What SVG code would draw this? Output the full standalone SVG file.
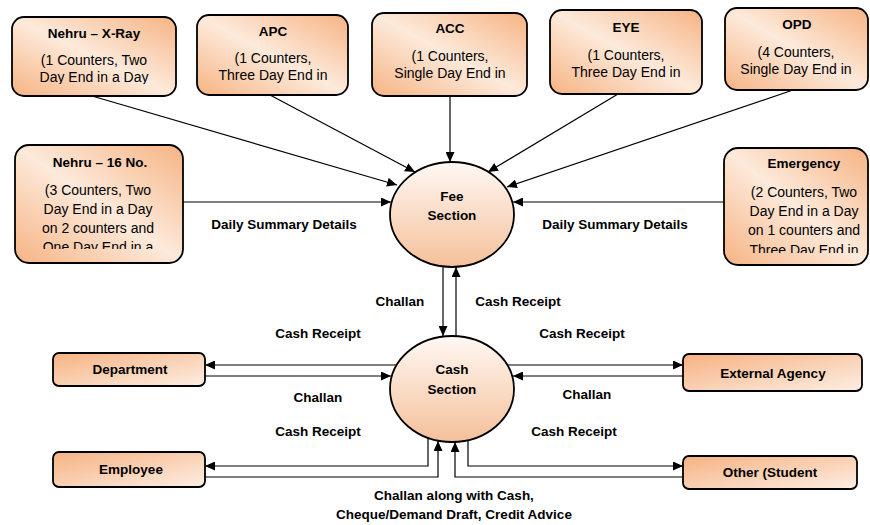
<svg xmlns="http://www.w3.org/2000/svg" width="870" height="525" viewBox="0 0 870 525">
<style>
.box{stroke:#000;stroke-width:1.8;fill:url(#gBox)}
.sbox{stroke:#000;stroke-width:1.8;fill:url(#gSmall)}
.ell{stroke:#000;stroke-width:1.8;fill:url(#gEll)}
.t{font-family:"Liberation Sans",Arial,sans-serif;fill:#000;text-anchor:middle}
.b{font-weight:bold;font-size:13.5px}
.r{font-size:14px}
.c{fill:none;stroke:#000;stroke-width:1.2}
.a{marker-end:url(#arr)}
</style>
<defs>
<linearGradient id="gBox" x1="0" y1="1" x2="1" y2="0">
<stop offset="0" stop-color="#F6B383"/>
<stop offset="0.5" stop-color="#FDEADB"/>
<stop offset="1" stop-color="#F6B383"/>
</linearGradient>
<linearGradient id="gSmall" x1="0" y1="0" x2="1" y2="1">
<stop offset="0" stop-color="#F6B282"/>
<stop offset="1" stop-color="#FDEEE3"/>
</linearGradient>
<linearGradient id="gEll" x1="0" y1="0" x2="0" y2="1">
<stop offset="0" stop-color="#FFF8F3"/>
<stop offset="1" stop-color="#F5C09B"/>
</linearGradient>
<marker id="arr" markerUnits="userSpaceOnUse" markerWidth="11" markerHeight="9" refX="10" refY="4.5" orient="auto">
<path d="M0,0 L10,4.5 L0,9 z" fill="#000"/>
</marker>
<clipPath id="cXray"><rect x="12" y="17" width="164" height="67"/></clipPath>
<clipPath id="cApc"><rect x="197" y="15" width="151" height="68"/></clipPath>
<clipPath id="cAcc"><rect x="372" y="13" width="155" height="69"/></clipPath>
<clipPath id="cEye"><rect x="550" y="10" width="152" height="70"/></clipPath>
<clipPath id="cOpd"><rect x="725" y="8" width="143" height="70"/></clipPath>
<clipPath id="cN16"><rect x="15" y="145" width="168" height="104"/></clipPath>
<clipPath id="cEmg"><rect x="724" y="148" width="144" height="105"/></clipPath>
</defs>

<g id="connectors">
<line class="c a" x1="92" y1="96" x2="397" y2="185"/>
<line class="c a" x1="270" y1="95" x2="415" y2="172"/>
<line class="c a" x1="450" y1="96" x2="450" y2="162"/>
<line class="c a" x1="618" y1="94" x2="488" y2="172"/>
<line class="c a" x1="793" y1="90" x2="507" y2="187"/>
<line class="c a" x1="183" y1="202" x2="391" y2="202"/>
<line class="c a" x1="724" y1="202" x2="513" y2="202"/>
<line class="c a" x1="443" y1="266" x2="443" y2="336"/>
<line class="c a" x1="456" y1="336" x2="456" y2="267"/>
<line class="c a" x1="396" y1="365" x2="205" y2="365"/>
<line class="c a" x1="205" y1="376" x2="391" y2="376"/>
<line class="c a" x1="508" y1="365" x2="683" y2="365"/>
<line class="c a" x1="683" y1="376" x2="513" y2="376"/>
<path class="c a" d="M428,437 V466 H205"/>
<path class="c a" d="M205,477 H438 V441"/>
<path class="c a" d="M683,477 H455 V442"/>
<path class="c a" d="M468,439 V466 H683"/>
</g>

<g id="labels">
<text class="t b" x="284" y="229">Daily Summary Details</text>
<text class="t b" x="615" y="229">Daily Summary Details</text>
<text class="t b" x="400" y="306">Challan</text>
<text class="t b" x="518" y="306">Cash Receipt</text>
<text class="t b" x="318" y="338">Cash Receipt</text>
<text class="t b" x="318" y="402">Challan</text>
<text class="t b" x="318" y="436">Cash Receipt</text>
<text class="t b" x="582" y="338">Cash Receipt</text>
<text class="t b" x="587" y="399">Challan</text>
<text class="t b" x="574" y="436">Cash Receipt</text>
<text class="t b" x="454" y="500">Challan along with Cash,</text>
<text class="t b" x="454" y="519">Cheque/Demand Draft, Credit Advice</text>
</g>

<g id="nehru-xray">
<rect class="box" x="12" y="17" width="164" height="79" rx="12"/>
<g clip-path="url(#cXray)">
<text class="t b" x="94" y="38">Nehru – X-Ray</text>
<text class="t r" x="94" y="65">(1 Counters, Two</text>
<text class="t r" x="94" y="82">Day End in a Day</text>
</g>
</g>
<g id="apc">
<rect class="box" x="197" y="15" width="151" height="80" rx="12"/>
<g clip-path="url(#cApc)">
<text class="t b" x="273" y="36">APC</text>
<text class="t r" x="273" y="63">(1 Counters,</text>
<text class="t r" x="273" y="80">Three Day End in</text>
</g>
</g>
<g id="acc">
<rect class="box" x="372" y="13" width="155" height="83" rx="12"/>
<g clip-path="url(#cAcc)">
<text class="t b" x="450" y="33">ACC</text>
<text class="t r" x="450" y="61">(1 Counters,</text>
<text class="t r" x="450" y="78">Single Day End in</text>
</g>
</g>
<g id="eye">
<rect class="box" x="550" y="10" width="152" height="84" rx="12"/>
<g clip-path="url(#cEye)">
<text class="t b" x="626" y="32">EYE</text>
<text class="t r" x="626" y="60">(1 Counters,</text>
<text class="t r" x="626" y="77">Three Day End in</text>
</g>
</g>
<g id="opd">
<rect class="box" x="725" y="8" width="143" height="82" rx="12"/>
<g clip-path="url(#cOpd)">
<text class="t b" x="797" y="29">OPD</text>
<text class="t r" x="796" y="57">(4 Counters,</text>
<text class="t r" x="796" y="74">Single Day End in</text>
</g>
</g>
<g id="nehru-16">
<rect class="box" x="15" y="145" width="168" height="118" rx="14"/>
<g clip-path="url(#cN16)">
<text class="t b" x="100" y="167">Nehru – 16 No.</text>
<text class="t r" x="98" y="195">(3 Counters, Two</text>
<text class="t r" x="98" y="214">Day End in a Day</text>
<text class="t r" x="98" y="233">on 2 counters and</text>
<text class="t r" x="98" y="252">One Day End in a</text>
</g>
</g>
<g id="emergency">
<rect class="box" x="724" y="148" width="144" height="117" rx="14"/>
<g clip-path="url(#cEmg)">
<text class="t b" x="804" y="168">Emergency</text>
<text class="t r" x="804" y="197">(2 Counters, Two</text>
<text class="t r" x="804" y="216">Day End in a Day</text>
<text class="t r" x="804" y="235">on 1 counters and</text>
<text class="t r" x="804" y="255">Three Day End in</text>
</g>
</g>
<g id="fee-section">
<ellipse class="ell" cx="452" cy="214.5" rx="62" ry="52.5"/>
<text class="t b" x="452" y="201">Fee</text>
<text class="t b" x="452" y="220">Section</text>
</g>
<g id="cash-section">
<ellipse class="ell" cx="452" cy="389" rx="62" ry="53"/>
<text class="t b" x="452" y="374">Cash</text>
<text class="t b" x="452" y="394">Section</text>
</g>
<g id="department">
<rect class="sbox" x="53" y="353" width="152" height="33" rx="6"/>
<text class="t b" x="130" y="374">Department</text>
</g>
<g id="employee">
<rect class="sbox" x="53" y="452" width="152" height="35" rx="6"/>
<text class="t b" x="131" y="474">Employee</text>
</g>
<g id="external-agency">
<rect class="sbox" x="683" y="354" width="179" height="37" rx="6"/>
<text class="t b" x="773" y="378">External Agency</text>
</g>
<g id="other">
<rect class="sbox" x="683" y="456" width="174" height="33" rx="6"/>
<text class="t b" x="770" y="477">Other (Student</text>
</g>
</svg>
